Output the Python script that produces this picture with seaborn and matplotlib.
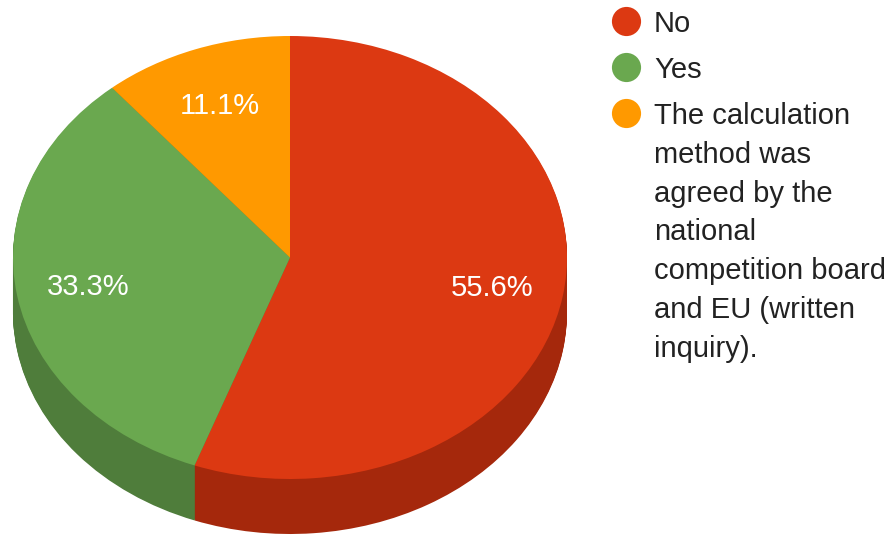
import matplotlib
matplotlib.use("Agg")
import matplotlib.pyplot as plt
import numpy as np
import seaborn as sns

labels = ["No", "Yes", "The calculation\nmethod was\nagreed by the\nnational\ncompetition board\nand EU (written\ninquiry)."]
values = [55.6, 33.3, 11.1]
pct_labels = ["55.6%", "33.3%", "11.1%"]
colors = ["#dc3912", "#6aa84f", "#ff9900"]
side_colors = ["#a5280c", "#4f7d3b", "#bf7300"]

sns.set_theme(style="white")
plt.rcParams["font.family"] = ["Liberation Sans", "DejaVu Sans"]

W, H = 894, 536
fig = plt.figure(figsize=(W / 100, H / 100), dpi=100)
ax = fig.add_axes([0, 0, 1, 1])

# pixel sizes
rx, ry = 277, 221.5
cx, cy = 290, 257.5
depth = 55
squash = ry / rx

# side wall is a stack of darker pies, squashed by the aspect set afterwards
for off in np.arange(depth, 0, -1):
    ax.pie(values, colors=side_colors, startangle=90, counterclock=False,
           radius=rx, center=(cx, (H - cy - off) / squash), frame=True,
           wedgeprops={"linewidth": 0})
ax.pie(values, colors=colors, startangle=90, counterclock=False,
       radius=rx, center=(cx, (H - cy) / squash), frame=True,
       wedgeprops={"linewidth": 0})

ax.set_aspect(squash)
ax.set_xlim(0, W)
ax.set_ylim(0, H / squash)
ax.axis("off")

# overlay in plain pixels for the texts and the legend
over = fig.add_axes([0, 0, 1, 1])
over.set_xlim(0, W)
over.set_ylim(H, 0)
over.axis("off")

start = 90
for val, txt in zip(values, pct_labels):
    mid = np.deg2rad(start - val * 3.6 / 2)
    start -= val * 3.6
    over.text(cx + 0.74 * rx * np.cos(mid), cy + 2 - 0.735 * ry * np.sin(mid), txt,
              color="white", fontsize=21, ha="center", va="center")

# legend by hand, the marker sits on the first line of a wrapped label
y = 21
for lab, c in zip(labels, colors):
    over.plot([626], [y], marker="o", markersize=21, color=c, linestyle="", markeredgewidth=0)
    for line in lab.split("\n"):
        over.text(654, y, line, color="#222222", fontsize=21, ha="left", va="center_baseline")
        y += 38.8
    y += 46 - 38.8

fig.savefig("out.png", dpi=100)
